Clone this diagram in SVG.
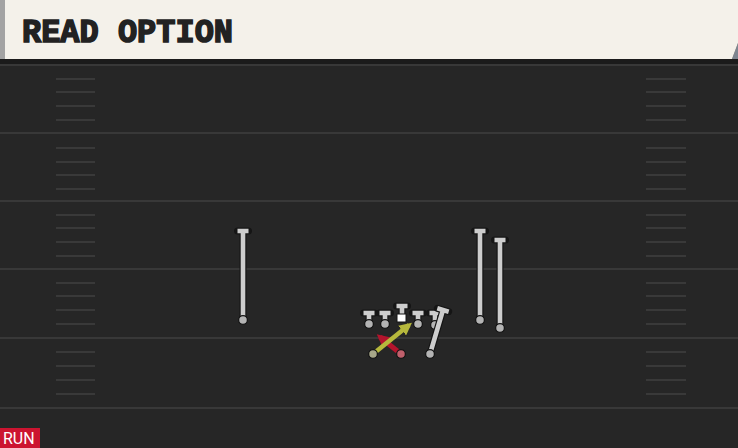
<svg xmlns="http://www.w3.org/2000/svg" width="738" height="448" viewBox="0 0 738 448">
<defs>
<style>
.yard{stroke:#383838;stroke-width:2}
.hash{stroke:#393939;stroke-width:2}
.out{fill:none;stroke:#151515;stroke-width:7;stroke-linecap:round}
.rt{fill:none;stroke:#cdcdcd;stroke-width:4.6;stroke-linecap:butt}
.dot{fill:#b4b4b4;stroke:#151515;stroke-width:1.3}
</style>
<marker id="ahY" viewBox="0 0 10 10" refX="7" refY="5" markerWidth="2.8" markerHeight="2.8" orient="auto" markerUnits="strokeWidth"><path d="M0,0 L10,5 L0,10 z" fill="#b6b83c"/></marker>
<marker id="ahR" viewBox="0 0 10 10" refX="7" refY="5" markerWidth="2.8" markerHeight="2.8" orient="auto" markerUnits="strokeWidth"><path d="M0,0 L10,5 L0,10 z" fill="#b2142c"/></marker>
</defs>
<rect x="0" y="0" width="738" height="448" fill="#262626"/>
<rect x="0" y="58" width="738" height="6" fill="#1b1b1b"/>
<line x1="0" y1="65" x2="738" y2="65" class="yard"/>
<g id="header">
<polygon points="732,59 738,43 738,59" fill="#7d8590"/>
<polygon points="0,0 738,0 738,43 732,59 0,59" fill="#f4f1ea"/>
<rect x="0" y="0" width="5" height="59" fill="#a3a3a3"/>
<text x="22" y="42" font-family="'Liberation Mono', 'DejaVu Sans Mono', monospace" font-weight="bold" font-size="34" fill="#222" stroke="#222" stroke-width="1.6" stroke-linejoin="miter" textLength="211" lengthAdjust="spacingAndGlyphs">READ OPTION</text>
</g>
<g id="field">
<g class="yard">
<line x1="0" y1="133" x2="738" y2="133"/>
<line x1="0" y1="201" x2="738" y2="201"/>
<line x1="0" y1="269" x2="738" y2="269"/>
<line x1="0" y1="338" x2="738" y2="338"/>
<line x1="0" y1="408" x2="738" y2="408"/>
</g>
<g class="hash">
<path d="M56,79H95M56,92H95M56,106H95M56,120H95M56,148H95M56,162H95M56,175H95M56,189H95M56,215H95M56,228H95M56,242H95M56,256H95M56,283H95M56,296H95M56,310H95M56,324H95M56,352H95M56,366H95M56,380H95M56,394H95"/>
<path d="M646,79H686M646,92H686M646,106H686M646,120H686M646,148H686M646,162H686M646,175H686M646,189H686M646,215H686M646,228H686M646,242H686M646,256H686M646,283H686M646,296H686M646,310H686M646,324H686M646,352H686M646,366H686M646,380H686M646,394H686"/>
</g>
</g>
<g id="connectors">
<line x1="401" y1="354" x2="380" y2="337" stroke="#b2142c" stroke-width="5" marker-end="url(#ahR)"/>
<line x1="373" y1="354" x2="409" y2="325" stroke="#b6b83c" stroke-width="4.5" marker-end="url(#ahY)"/>
</g>
<g id="wr-left">
<path class="out" d="M243,231V320M237.5,231H248.5"/>
<path class="rt" d="M243,231V320M237.5,231H248.5"/>
<circle class="dot" cx="243" cy="320" r="4.4"/>
</g>
<g id="wr-right1">
<path class="out" d="M480,231V320M474.5,231H485.5"/>
<path class="rt" d="M480,231V320M474.5,231H485.5"/>
<circle class="dot" cx="480" cy="320" r="4.4"/>
</g>
<g id="wr-right2">
<path class="out" d="M500,240V328M494.5,240H505.5"/>
<path class="rt" d="M500,240V328M494.5,240H505.5"/>
<circle class="dot" cx="500" cy="328" r="4.4"/>
</g>
<g id="ol1">
<path class="out" d="M369,313V323M363.5,313H374.5"/>
<path class="rt" d="M369,313V323M363.5,313H374.5"/>
<circle class="dot" cx="369" cy="324" r="4.4"/>
</g>
<g id="ol2">
<path class="out" d="M385,313V323M379.5,313H390.5"/>
<path class="rt" d="M385,313V323M379.5,313H390.5"/>
<circle class="dot" cx="385" cy="324" r="4.4"/>
</g>
<g id="center">
<path class="out" d="M402,306V316M396.5,306H407.5"/>
<path class="rt" d="M402,306V316M396.5,306H407.5"/>
<rect x="397" y="314" width="9" height="8" fill="#ffffff" stroke="#151515" stroke-width="1"/>
</g>
<g id="ol4">
<path class="out" d="M418,313V323M412.5,313H423.5"/>
<path class="rt" d="M418,313V323M412.5,313H423.5"/>
<circle class="dot" cx="418" cy="324" r="4.4"/>
</g>
<g id="ol5">
<path class="out" d="M435,313V324M429.5,313H440.5"/>
<path class="rt" d="M435,313V324M429.5,313H440.5"/>
<circle class="dot" cx="435" cy="325" r="4.4"/>
</g>
<g id="te">
<path class="out" d="M430,354L443,310M437.3,308.3L448.7,311.7"/>
<path class="rt" d="M430,354L443,310M437.3,308.3L448.7,311.7"/>
<circle class="dot" cx="430" cy="354" r="4.4"/>
</g>
<g id="rb">
<circle cx="373" cy="354" r="4.4" fill="#a8a88a" stroke="#151515" stroke-width="1.3"/>
</g>
<g id="qb">
<circle cx="401" cy="354" r="4.4" fill="#c0606c" stroke="#151515" stroke-width="1.3"/>
</g>
<g id="tag">
<rect x="0" y="428" width="40" height="20" fill="#cc1430"/>
<text x="3" y="444" font-family="Roboto, 'Liberation Sans', sans-serif" font-size="16" fill="#ffffff">RUN</text>
</g>
</svg>
